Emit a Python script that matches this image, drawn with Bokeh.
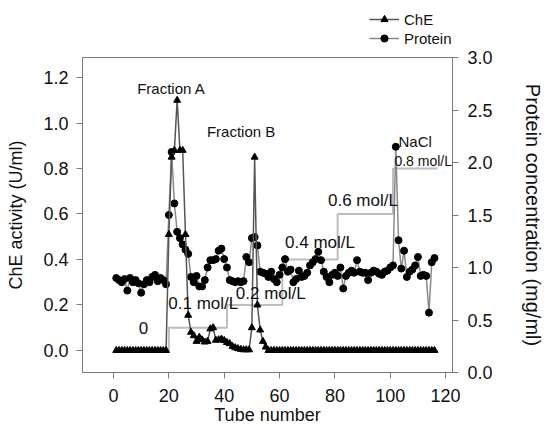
from bokeh.plotting import figure
from bokeh.layouts import column
from bokeh.models import Range1d, LinearAxis, FixedTicker, Legend, LegendItem, NumeralTickFormatter, Label
from bokeh.embed import file_html
from bokeh.resources import INLINE

FONT = "Liberation Sans"

tubes = list(range(1, 117))

che_activity = [
    0.0, 0.0, 0.0, 0.0, 0.0, 0.0, 0.0, 0.0, 0.0, 0.0,
    0.0, 0.0, 0.0, 0.0, 0.0, 0.0, 0.0, 0.0, 0.0,
    0.51, 0.85, 0.88, 1.10, 0.88, 0.88, 0.51, 0.155, 0.08, 0.065,
    0.04, 0.058, 0.047, 0.037, 0.04, 0.095, 0.10, 0.045, 0.047, 0.05,
    0.044, 0.035, 0.03, 0.018, 0.012, 0.008, 0.005, 0.003, 0.003, 0.003,
    0.10, 0.85, 0.20, 0.09, 0.04, 0.015,
    0.0, 0.0, 0.0, 0.0, 0.0, 0.0, 0.0, 0.0, 0.0, 0.0,
    0.0, 0.0, 0.0, 0.0, 0.0, 0.0, 0.0, 0.0, 0.0, 0.0,
    0.0, 0.0, 0.0, 0.0, 0.0, 0.0, 0.0, 0.0, 0.0, 0.0,
    0.0, 0.0, 0.0, 0.0, 0.0, 0.0, 0.0, 0.0, 0.0, 0.0,
    0.0, 0.0, 0.0, 0.0, 0.0, 0.0, 0.0, 0.0, 0.0, 0.0,
    0.0, 0.0, 0.0, 0.0, 0.0, 0.0, 0.0, 0.0, 0.0, 0.0,
    0.0,
]

protein_conc = [
    0.90, 0.88, 0.86, 0.89, 0.78, 0.90, 0.86, 0.88, 0.85, 0.76,
    0.84, 0.88, 0.86, 0.91, 0.93, 0.87, 0.90, 0.88, 0.84,
    1.50, 2.10, 1.61, 1.34, 1.28, 1.22, 1.17, 1.13, 0.91, 0.86,
    0.92, 0.82, 0.82, 0.88, 1.00, 1.07, 1.07, 1.08, 1.16, 1.18,
    1.08, 1.00, 0.88, 0.87, 0.86, 0.87, 0.86, 0.87, 1.10, 1.05,
    1.28, 1.29, 1.21, 0.96, 0.95, 0.94, 0.91, 0.96, 0.89, 0.86,
    0.93, 1.00, 1.08, 0.96, 0.98, 0.86, 0.89, 0.97, 0.91, 0.92,
    0.95, 1.02, 1.05, 1.08, 1.15, 1.07, 0.96, 0.91, 0.86, 0.93,
    0.95, 0.92, 1.00, 0.80, 0.92, 0.95, 0.97, 0.95, 1.07, 0.96,
    0.95, 0.95, 0.88, 0.95, 0.97, 0.96, 0.94, 0.93, 0.96, 0.97,
    1.00, 1.02, 2.15, 1.26, 0.99, 1.16, 0.91, 0.96, 0.98, 1.02,
    1.10, 0.92, 0.93, 0.92, 0.57, 1.05, 1.09,
]

# NaCl step gradient (mol/L), plotted on the left axis scale
nacl_tube = [1, 20, 20, 41, 41, 61, 61, 81, 81, 101, 101, 117]
nacl_conc = [0.0, 0.0, 0.1, 0.1, 0.2, 0.2, 0.4, 0.4, 0.6, 0.6, 0.8, 0.8]

x_ticks = [0, 20, 40, 60, 80, 100, 120]
left_ticks = [0.0, 0.2, 0.4, 0.6, 0.8, 1.0, 1.2]
right_ticks = [0.0, 0.5, 1.0, 1.5, 2.0, 2.5, 3.0]

AX = "#7a7a7a"
CHE_LINE = "#555555"
PROT_LINE = "#8a8a8a"

# ---------- legend strip (top); its renderers use the real data but lie outside its ranges ----------
lg = figure(width=546, height=47, output_backend="svg", toolbar_location=None,
            x_range=Range1d(200, 300), y_range=Range1d(200, 300),
            x_axis_type=None, y_axis_type=None, min_border=0,
            min_border_left=0, min_border_right=0, min_border_top=0, min_border_bottom=0)
lg.outline_line_color = None
lg.grid.visible = False
l_cl = lg.line(tubes, che_activity, line_color=CHE_LINE, line_width=1.5)
l_cs = lg.scatter(tubes, che_activity, marker="triangle", size=7, fill_color="black", line_color="black")
l_pl = lg.line(tubes, protein_conc, line_color=PROT_LINE, line_width=1.5)
l_ps = lg.scatter(tubes, protein_conc, marker="circle", size=7, fill_color="black", line_color="black")
legend = Legend(items=[LegendItem(label="ChE", renderers=[l_cl, l_cs]),
                       LegendItem(label="Protein", renderers=[l_pl, l_ps])],
                location=(287, 0), padding=0, margin=0, spacing=1,
                glyph_width=30, glyph_height=18, label_standoff=5,
                label_text_font=FONT, label_text_font_size="15px",
                label_text_color="#111111", border_line_color=None,
                background_fill_alpha=0)
lg.add_layout(legend)

# ---------- main chart ----------
p = figure(width=546, height=380, output_backend="svg", toolbar_location=None,
           x_range=Range1d(-11.2, 122.5), y_range=Range1d(-0.097, 1.288),
           min_border_left=82, min_border_right=93, min_border_top=10, min_border_bottom=55,
           x_axis_label="Tube number", y_axis_label="ChE activity (U/ml)")
p.grid.visible = False
p.outline_line_color = AX
p.outline_line_width = 1
p.background_fill_color = "white"
p.border_fill_color = "white"

p.extra_y_ranges = {"prot": Range1d(0, 3.0)}

def style_axis(ax, ticks, fmt=None):
    ax.ticker = FixedTicker(ticks=ticks)
    ax.minor_tick_line_color = None
    ax.axis_line_color = AX
    ax.major_tick_line_color = AX
    ax.major_tick_out = 6
    ax.major_tick_in = 0
    ax.major_label_text_font = FONT
    ax.major_label_text_font_size = "18px"
    ax.major_label_text_color = "#111111"
    ax.axis_label_text_font = FONT
    ax.axis_label_text_font_size = "18px"
    ax.axis_label_text_font_style = "normal"
    ax.axis_label_text_color = "#111111"
    if fmt:
        ax.formatter = NumeralTickFormatter(format=fmt)

xa = p.xaxis[0]
style_axis(xa, x_ticks)
xa.major_label_standoff = 10
xa.axis_label_standoff = 0

ya = p.yaxis[0]
style_axis(ya, left_ticks, "0.0")
ya.major_label_standoff = 8
ya.axis_label_standoff = 14

ra = LinearAxis(y_range_name="prot", axis_label="Protein concentration (mg/ml)")
style_axis(ra, right_ticks, "0.0")
ra.major_label_standoff = 9
ra.axis_label_standoff = 26
ra.axis_label_text_font_size = "20px"
p.add_layout(ra, "right")

# NaCl step line
p.line(nacl_tube, nacl_conc, line_color="#bdbdbd", line_width=2)

# Protein
p.line(tubes, protein_conc, line_color=PROT_LINE, line_width=1.5, y_range_name="prot")
p.scatter(tubes, protein_conc, marker="circle", size=7, fill_color="black",
          line_color="black", y_range_name="prot")

# ChE
p.line(tubes, che_activity, line_color=CHE_LINE, line_width=1.5)
p.scatter(tubes, che_activity, marker="triangle", size=7, fill_color="black",
          line_color="black")

def lab(x, y, t, size, align="left"):
    p.add_layout(Label(x=x, y=y, text=t, text_font=FONT, text_font_size=size,
                       text_align=align, text_baseline="middle", text_color="#111111"))

lab(20.9, 1.152, "Fraction A", "15px", "center")
lab(46.1, 0.963, "Fraction B", "15px", "center")
lab(109.0, 0.919, "NaCl", "15px", "center")
lab(10.8, 0.10, "0", "17px", "center")
lab(19.8, 0.208, "0.1 mol/L", "17px")
lab(44.2, 0.25, "0.2 mol/L", "17px")
lab(62.0, 0.475, "0.4 mol/L", "17px")
lab(77.5, 0.66, "0.6 mol/L", "17px")
lab(101.5, 0.835, "0.8 mol/L", "14px")

open("out.html", "w").write(file_html(column(lg, p, spacing=0), INLINE))
